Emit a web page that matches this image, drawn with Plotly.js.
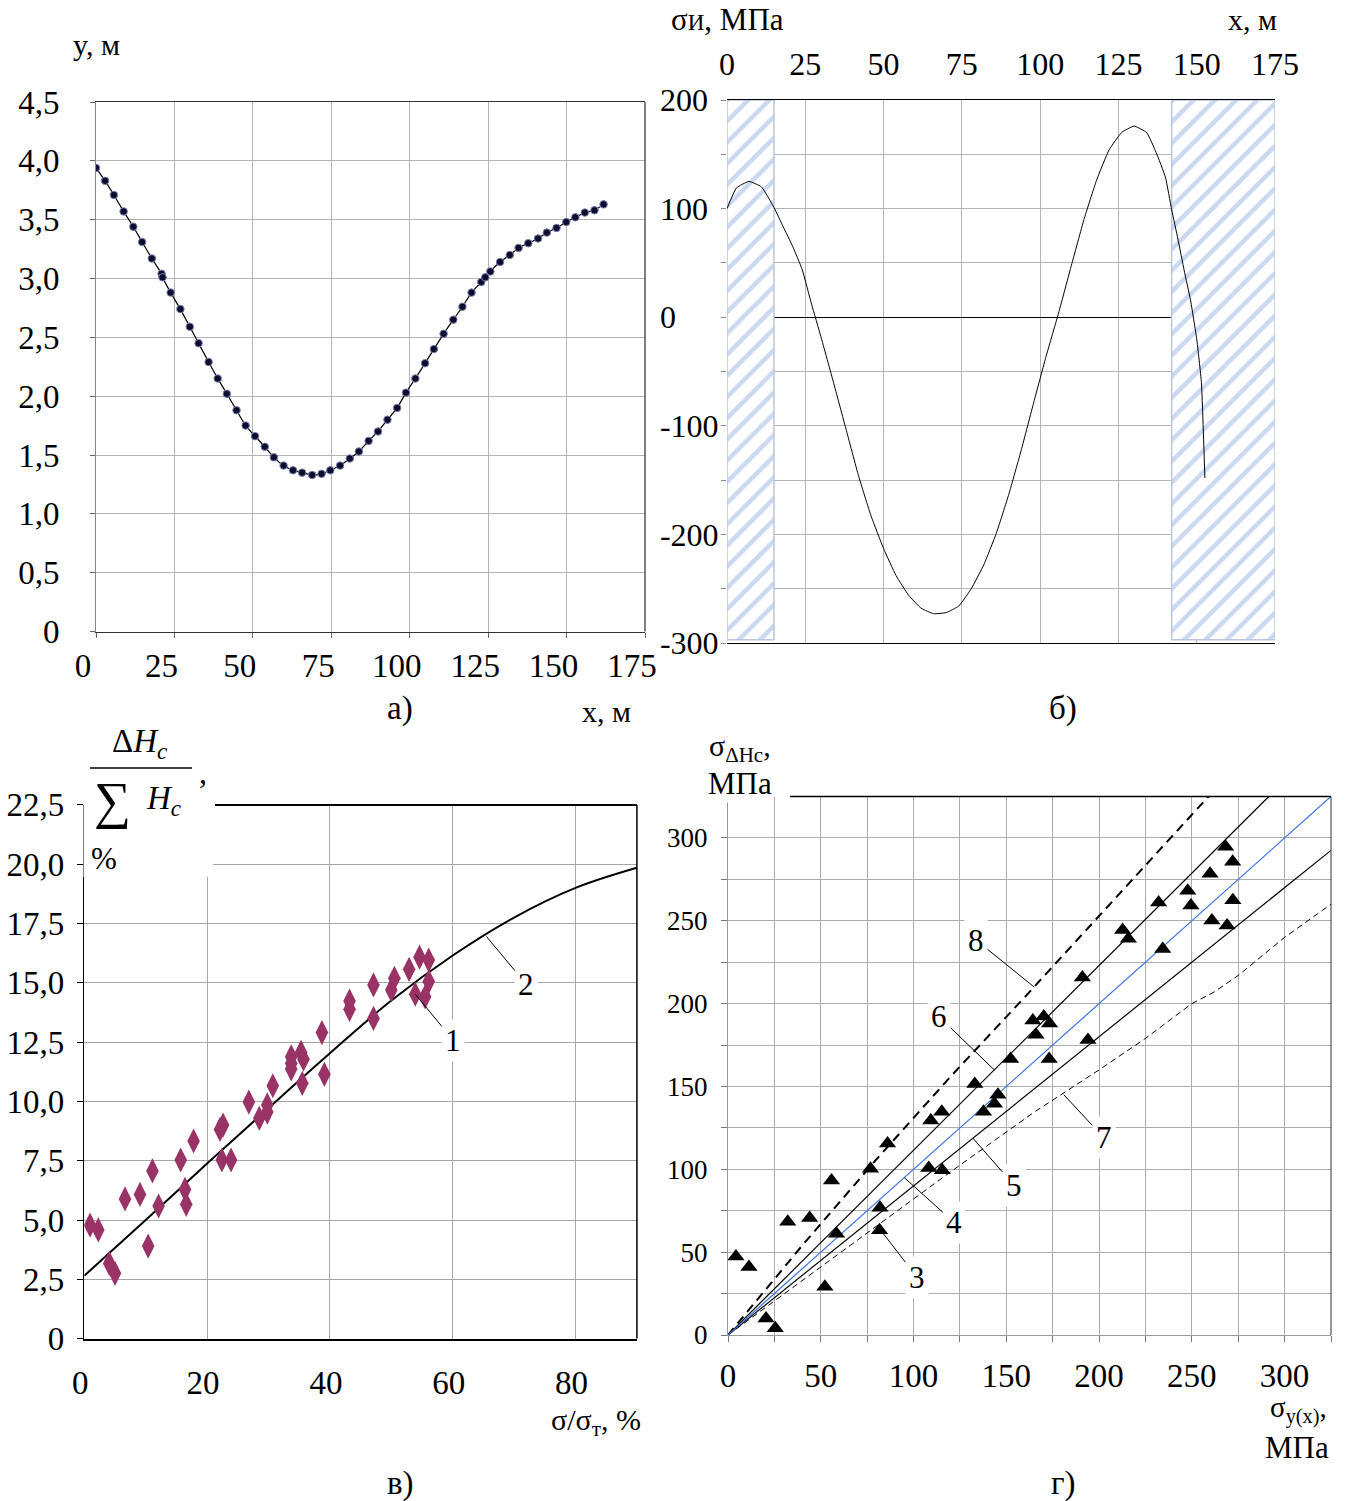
<!DOCTYPE html>
<html><head><meta charset="utf-8">
<script src="https://cdn.plot.ly/plotly-3.0.1.min.js"></script>
<style>html,body{margin:0;padding:0;background:#fff;}#chart{width:1346px;height:1501px;}</style>
</head><body><div id="chart"></div>
<script>
// ---------- Panel а: profile y(x) ----------
const profX = [0,2.9,5.7,8.8,11.9,14.7,17.8,20.9,21.2,23.8,26.9,29.9,32.7,35.9,38.8,41.7,44.8,47.7,50.7,53.8,56.7,59.8,62.8,65.7,68.9,71.9,74.7,77.8,80.9,83.8,86.9,89.9,92.9,96.0,98.8,101.8,104.9,107.7,110.8,113.9,116.8,119.7,122.8,124.1,125.7,128.8,131.9,134.7,137.8,140.9,143.7,146.8,149.9,152.8,155.8,158.9,161.8];
const profY = [3.94,3.83,3.71,3.57,3.44,3.31,3.17,3.04,3.01,2.88,2.74,2.59,2.45,2.29,2.15,2.02,1.88,1.75,1.66,1.57,1.48,1.41,1.37,1.35,1.33,1.34,1.37,1.41,1.47,1.53,1.62,1.70,1.80,1.90,2.03,2.15,2.28,2.40,2.53,2.65,2.76,2.88,2.97,3.01,3.06,3.14,3.20,3.26,3.30,3.34,3.39,3.43,3.48,3.52,3.56,3.58,3.63];
const aYTickVals = [0,0.5,1,1.5,2,2.5,3,3.5,4,4.5];
const aYTickText = ['0','0,5','1,0','1,5','2,0','2,5','3,0','3,5','4,0','4,5'];

// ---------- Panel б: bending stress ----------
const stressX = [0,3,7,11,15,18,21,24,27,30,34,38,42,46,50,54,58,62,66,70,74,78,82,86,90,94,98,102,106,110,114,118,122,126,130,134,137,140,142,144,146,148,150,151.5,152.6];
const stressY = [100,119,125,120,101,83,65,44,12,-18,-60,-103,-146,-183,-213,-238,-256,-268,-273,-272,-266,-250,-228,-199,-163,-122,-78,-35,5,48,90,126,154,170,176,170,152,129,99,72,43,16,-20,-60,-148];
const zoneLeftX = [0, 15];
const zoneRightX = [142, 175];
const zoneY = [-297, 200];
const bYTickVals = [-300,-250,-200,-150,-100,-50,0,50,100,150,200];
const bYTickText = ['-300','','-200','','-100','','0\u2007\u2007\u2004','','100\u2004','','200\u2004'];

// ---------- Panel в: relative settlement ----------
const ratioX = [0.94,2.28,4.07,5.0,6.63,9.07,10.4,11.1,12.1,15.7,16.4,16.6,17.8,22.1,22.6,22.4,23.9,26.8,28.5,29.8,29.8,30.7,33.7,33.7,33.7,35.3,35.7,35.5,38.7,39.1,43.2,43.2,47.1,47.1,50.0,50.5,52.9,54.6,53.9,55.5,56.1,56.1];
const ratioY = [4.78,4.58,3.17,2.75,5.89,6.08,3.90,7.07,5.59,7.53,6.29,5.66,8.33,8.82,9.0,7.53,7.53,9.97,9.29,9.85,9.55,10.66,11.88,11.6,11.37,12.07,11.78,10.76,12.9,11.14,14.23,13.88,14.91,13.5,14.7,15.19,15.57,16.08,14.52,14.41,15.96,15.05];
const fitX = [0,10,20,30,40,50,60,70,80,90];
const fitY = [2.65,5.0,7.38,9.72,12.03,14.25,16.15,17.75,19.0,19.85];
const cYTickVals = [0,2.5,5,7.5,10,12.5,15,17.5,20,22.5];
const cYTickText = ['0','2,5','5,0','7,5','10,0','12,5','15,0','17,5','20,0','22,5'];

// ---------- Panel г: stress comparison ----------
const triX = [4.3,11.3,20.5,25.5,32.2,44,52.2,55.8,58.5,76.8,86,81.9,81.7,108.2,109.3,115.2,115.5,133,137.7,143.6,145.5,152.3,164.3,166,170.2,173.3,173.1,191,194,212.7,215.8,232.1,234.3,247.8,249.5,259.8,260.8,268.2,269,272,272.1];
const triY = [47.4,41.1,10,4,68.3,70.6,29.1,93.3,61.1,100.3,115.6,76.8,63.2,100.8,129.5,134.8,99.5,151.5,134.8,139.6,145,166.6,189.8,181.2,192.2,188,166.6,215.7,178.1,244.4,239.2,261,232.9,268.1,259.2,278.4,250.2,294.6,247.2,285.6,262.4];
const line4X = [0,325], line4Y = [0,325];
const line5X = [0,325], line5Y = [0,292.5];
const line6X = [0,291.5], line6Y = [0,325];
const line7X = [0,40,80,120,165,200,225,250,262,275,300,325];
const line7Y = [0,33,66,98.5,134.5,160,179,200,207,217,240,260];
const line8X = [0,40,80,120,160,200,240,259];
const line8Y = [0,54,106,156,204,253,302,325];
const dTickVals = [0,25,50,75,100,125,150,175,200,225,250,275,300,325];
const dTickText = ['0','','50','','100','','150','','200','','250','','300',''];

// ---------- layout helpers ----------
const W = 1346, H = 1501;
const F = '"Liberation Serif", serif';
const dx = (a,b) => [a/W, b/W];
const dy = (top,bottom) => [1-bottom/H, 1-top/H];
const txt = (text, x, y, size, extra) => Object.assign({
  text, xref:'paper', yref:'paper', x:x/W, y:1-y/H, xanchor:'center', yanchor:'middle',
  showarrow:false, font:{family:F, size:size, color:'black'}}, extra||{});
const ptr = (text, xr, yr, x, y, ax, ay) => ({
  text, xref:xr, yref:yr, x, y, ax, ay, showarrow:true, arrowhead:0, arrowwidth:1,
  arrowcolor:'black', bgcolor:'white', borderpad:3, standoff:0,
  font:{family:F, size:31, color:'black'}});

const zonePoly = (xs) => ({x:[xs[0],xs[1],xs[1],xs[0],xs[0]], y:[zoneY[1],zoneY[1],zoneY[0],zoneY[0],zoneY[1]]});
const zl = zonePoly(zoneLeftX), zr = zonePoly(zoneRightX);
const hatch = (p) => ({type:'scatter', mode:'lines', x:p.x, y:p.y, xaxis:'x2', yaxis:'y2',
  fill:'toself', fillcolor:'white', line:{color:'#b9c6dd', width:1.5},
  fillpattern:{shape:'/', fgcolor:'#cbd9f0', bgcolor:'white', size:15, solidity:0.3},
  hoverinfo:'skip'});

const traces = [
  {type:'scatter', mode:'lines+markers', x:profX, y:profY, xaxis:'x', yaxis:'y',
   line:{color:'black', width:1.2, shape:'spline', smoothing:0.5},
   marker:{symbol:'circle', size:7.5, color:'#0c0c2c', line:{color:'#7d7db4', width:1}}},
  hatch(zl), hatch(zr),
  {type:'scatter', mode:'lines', x:stressX, y:stressY, xaxis:'x2', yaxis:'y2',
   line:{color:'black', width:1, shape:'spline', smoothing:0.4}},
  {type:'scatter', mode:'lines', x:fitX, y:fitY, xaxis:'x3', yaxis:'y3',
   line:{color:'black', width:2, shape:'spline', smoothing:1}},
  {type:'scatter', mode:'markers', x:ratioX, y:ratioY, xaxis:'x3', yaxis:'y3',
   marker:{symbol:'diamond-tall', size:18, color:'#993366'}},
  {type:'scatter', mode:'lines', x:line8X, y:line8Y, xaxis:'x4', yaxis:'y4',
   line:{color:'black', width:2, dash:'9px,6px'}},
  {type:'scatter', mode:'lines', x:line7X, y:line7Y, xaxis:'x4', yaxis:'y4',
   line:{color:'black', width:1, dash:'6px,4px'}},
  {type:'scatter', mode:'lines', x:line6X, y:line6Y, xaxis:'x4', yaxis:'y4',
   line:{color:'black', width:1.2}},
  {type:'scatter', mode:'lines', x:line5X, y:line5Y, xaxis:'x4', yaxis:'y4',
   line:{color:'black', width:1.2}},
  {type:'scatter', mode:'lines', x:line4X, y:line4Y, xaxis:'x4', yaxis:'y4',
   line:{color:'#3f72e6', width:1.2}},
  {type:'scatter', mode:'markers', x:triX, y:triY, xaxis:'x4', yaxis:'y4',
   marker:{symbol:'triangle-up', size:15, color:'black'}}
];

const grid = '#b4b4b4';
const layout = {
  width:W, height:H, margin:{l:0,r:0,t:0,b:0}, showlegend:false,
  paper_bgcolor:'white', plot_bgcolor:'white',
  font:{family:F, color:'black'},
  // а
  xaxis:{domain:dx(96,645), anchor:'y', range:[0,175], tick0:0, dtick:25,
    showgrid:true, gridcolor:grid, gridwidth:1, zeroline:false,
    showline:true, linecolor:'#333', linewidth:1, mirror:true,
    ticks:'outside', ticklen:5, tickcolor:'#666',
    tickfont:{family:F, size:33, color:'black'}, ticklabelshift:-13, ticklabelstandoff:0},
  yaxis:{domain:dy(102,631.5), anchor:'x', range:[0,4.5], tickvals:aYTickVals, ticktext:aYTickText,
    showgrid:true, gridcolor:grid, zeroline:false, showline:true, linecolor:'#888',
    ticks:'outside', ticklen:5, tickcolor:'#666',
    tickfont:{family:F, size:33, color:'black'}, ticklabelstandoff:24},
  // б
  xaxis2:{domain:dx(727,1275), anchor:'y2', side:'top', range:[0,175], tick0:0, dtick:25,
    showgrid:true, gridcolor:grid, zeroline:false, showline:true, linecolor:'black', mirror:true,
    layer:'below traces', ticks:'',
    tickfont:{family:F, size:32, color:'black'}, ticklabelstandoff:11},
  yaxis2:{domain:dy(100,643), anchor:'x2', range:[-300,200], tickvals:bYTickVals, ticktext:bYTickText,
    showgrid:true, gridcolor:grid, zeroline:true, zerolinecolor:'black', zerolinewidth:1,
    showline:false, ticks:'outside', ticklen:5, tickcolor:'#888', layer:'below traces',
    tickfont:{family:F, size:32, color:'black'}, ticklabelstandoff:-4},
  // в
  xaxis3:{domain:dx(84.3,636.9), anchor:'y3', range:[0,90], tickvals:[0,20,40,60,80],
    showgrid:true, gridcolor:'#a6a6a6', zeroline:false, showline:true, linecolor:'black', linewidth:2,
    ticks:'', tickfont:{family:F, size:33, color:'black'}, ticklabelshift:-4, ticklabelstandoff:14},
  yaxis3:{domain:dy(804.9,1338.6), anchor:'x3', range:[0,22.5], tickvals:cYTickVals, ticktext:cYTickText,
    showgrid:true, gridcolor:'#a6a6a6', zeroline:false, showline:true, linecolor:'black', linewidth:1.5,
    ticks:'outside', ticklen:6, tickcolor:'black',
    tickfont:{family:F, size:33, color:'black'}, ticklabelstandoff:6},
  // г
  xaxis4:{domain:dx(728,1331), anchor:'y4', range:[0,325], tickvals:dTickVals, ticktext:dTickText,
    showgrid:true, gridcolor:'#acacac', zeroline:false, showline:true, linecolor:'#999',
    ticks:'outside', ticklen:6, tickcolor:'#777',
    tickfont:{family:F, size:33, color:'black'}, ticklabelstandoff:5},
  yaxis4:{domain:dy(796.5,1335), anchor:'x4', range:[0,325], tickvals:dTickVals, ticktext:dTickText,
    showgrid:true, gridcolor:'#acacac', zeroline:false, showline:true, linecolor:'#999',
    ticks:'outside', ticklen:6, tickcolor:'#777',
    tickfont:{family:F, size:27, color:'black'}, ticklabelstandoff:8},
  shapes:[
    {type:'line', xref:'x domain', yref:'y domain', x0:1, x1:1, y0:0, y1:1, line:{color:'black', width:1}},
    {type:'rect', xref:'paper', yref:'paper', x0:83.5/W, x1:213/W, y0:1-877/H, y1:1-720/H,
     fillcolor:'white', line:{width:0}, layer:'above'},
    {type:'line', xref:'x3 domain', yref:'y3 domain', x0:0.2365, x1:1, y0:1, y1:1, line:{color:'black', width:2}},
    {type:'line', xref:'x3 domain', yref:'y3 domain', x0:1, x1:1, y0:0, y1:1, line:{color:'black', width:1.5}},
    {type:'line', xref:'paper', yref:'paper', x0:90/W, x1:192/W, y0:1-768/H, y1:1-768/H, line:{color:'black', width:1.5}, layer:'above'},
    {type:'line', xref:'x4 domain', yref:'y4 domain', x0:0.103, x1:1, y0:1, y1:1, line:{color:'black', width:1.5}},
    {type:'line', xref:'x4 domain', yref:'y4 domain', x0:1, x1:1, y0:0, y1:1, line:{color:'#333', width:1}}
  ],
  annotations:[
    // а
    txt('y, м', 96, 45, 30),
    txt('х, м', 606, 712, 30),
    txt('а)', 400, 708, 33),
    // б
    txt('σ<span style="font-size:23px">И</span>, МПа', 727, 20, 31),
    txt('х, м', 1252, 20, 30),
    txt('б)', 1063, 708, 33),
    // в
    txt('Δ<i>H</i><sub><i>c</i></sub>', 139, 743, 33),
    txt('∑', 113, 801, 52),
    txt('<i>H</i><sub><i>c</i></sub>', 163, 800, 33),
    txt(',', 203, 772, 32),
    txt('%', 104, 858, 31),
    txt('σ/σ<sub>т</sub>, %', 596, 1422, 30),
    txt('в)', 400, 1483, 33),
    ptr('1', 'x3', 'y3', 53.9, 14.52, 38, 46),
    ptr('2', 'x3', 'y3', 65.5, 16.95, 40, 48),
    // г
    txt('σ<sub>ΔHc</sub>,', 740, 748, 30),
    txt('МПа', 740, 783, 31, {bgcolor:'white'}),
    txt('σ<sub>y(x)</sub>,', 1298, 1409, 29),
    txt('МПа', 1297, 1447, 31),
    txt('г)', 1063, 1483, 33),
    ptr('3', 'x4', 'y4', 83.5, 61.5, 34, 44),
    ptr('4', 'x4', 'y4', 95, 95, 50, 45),
    ptr('5', 'x4', 'y4', 132, 118.8, 41, 47),
    ptr('7', 'x4', 'y4', 181, 145, 40, 43),
    ptr('6', 'x4', 'y4', 143.5, 160, -55, -53),
    ptr('8', 'x4', 'y4', 165, 210, -58, -47)
  ]
};

Plotly.newPlot('chart', traces, layout, {displayModeBar:false, staticPlot:true});
</script>
</body></html>
